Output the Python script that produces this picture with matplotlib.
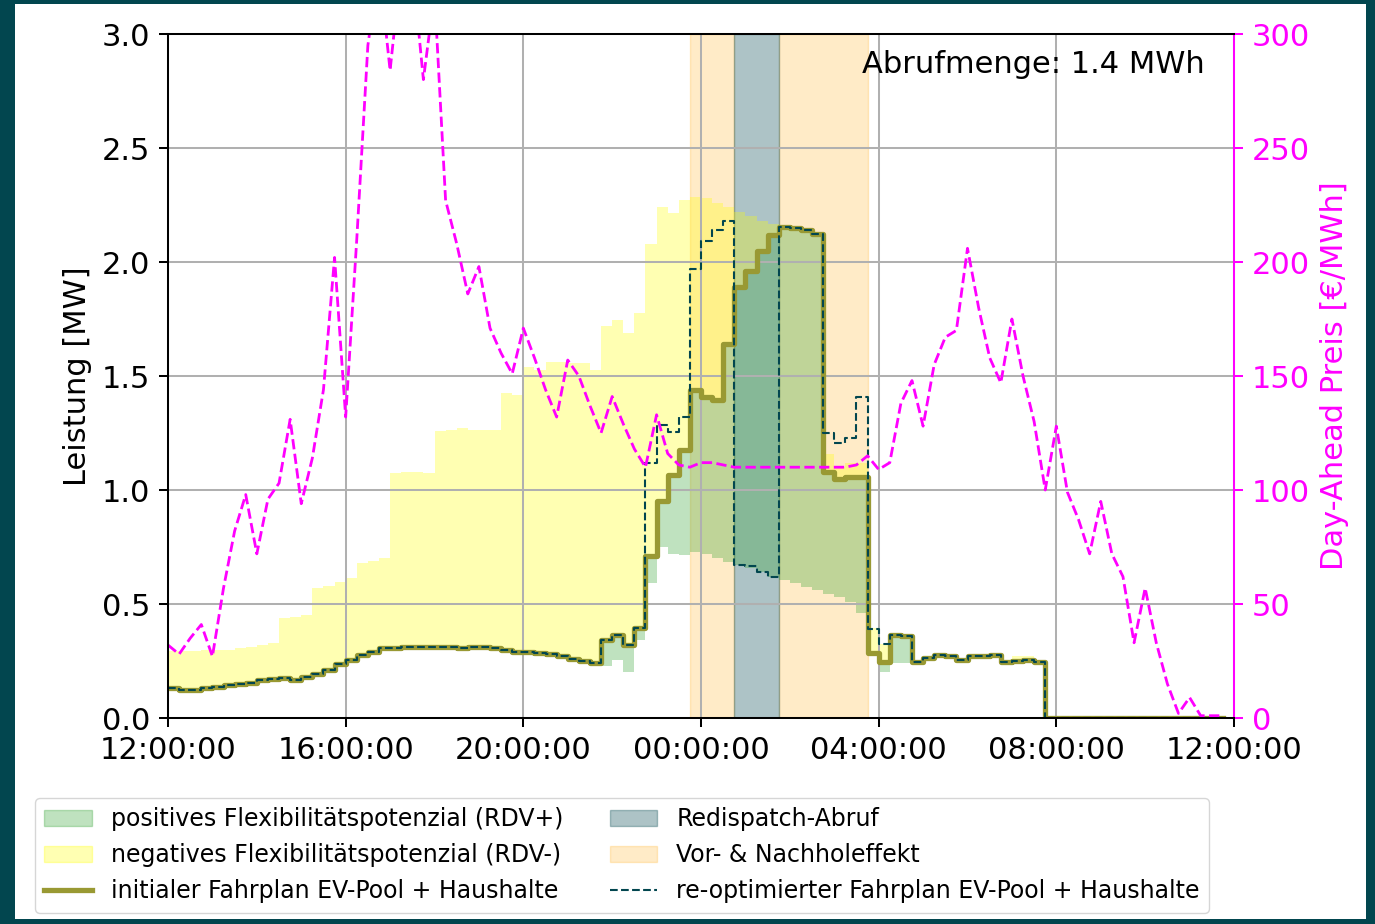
import matplotlib
matplotlib.use("Agg")
import matplotlib.pyplot as plt
import matplotlib.dates as mdates
from matplotlib.patches import Patch, Rectangle
from matplotlib.lines import Line2D
import pandas as pd

# 15-min Zeitraster von 12:00 bis 11:45 am Folgetag
times = pd.date_range("2024-01-15 12:00", periods=96, freq="15min")

initial = [0.13, 0.125, 0.125, 0.13, 0.135, 0.145, 0.15, 0.155, 0.165, 0.17,
           0.175, 0.167, 0.18, 0.195, 0.21, 0.235, 0.255, 0.275, 0.29, 0.305,
           0.305, 0.31, 0.31, 0.31, 0.31, 0.31, 0.305, 0.31, 0.31, 0.305,
           0.30, 0.29, 0.29, 0.285, 0.28, 0.27, 0.26, 0.25, 0.24, 0.34,
           0.365, 0.32, 0.395, 0.71, 0.95, 1.065, 1.175, 1.44, 1.41, 1.395,
           1.64, 1.89, 1.96, 2.05, 2.12, 2.155, 2.15, 2.14, 2.125, 1.08,
           1.05, 1.055, 1.055, 0.285, 0.245, 0.365, 0.36, 0.245, 0.265, 0.275,
           0.27, 0.255, 0.27, 0.27, 0.275, 0.245, 0.25, 0.255, 0.245, 0.0,
           0, 0, 0, 0, 0, 0, 0, 0, 0, 0,
           0, 0, 0, 0, 0, 0]

reopt = [0.13, 0.125, 0.125, 0.13, 0.135, 0.145, 0.15, 0.155, 0.165, 0.17,
         0.175, 0.167, 0.18, 0.195, 0.21, 0.235, 0.255, 0.275, 0.29, 0.305,
         0.305, 0.31, 0.31, 0.31, 0.31, 0.31, 0.305, 0.31, 0.31, 0.305,
         0.30, 0.29, 0.29, 0.285, 0.28, 0.27, 0.26, 0.25, 0.24, 0.34,
         0.365, 0.32, 0.395, 1.12, 1.285, 1.255, 1.32, 1.97, 2.09, 2.14,
         2.18, 0.67, 0.665, 0.64, 0.62, 2.155, 2.15, 2.14, 2.125, 1.25,
         1.205, 1.23, 1.41, 0.39, 0.325, 0.365, 0.36, 0.245, 0.265, 0.275,
         0.27, 0.255, 0.27, 0.27, 0.275, 0.245, 0.25, 0.255, 0.245, 0.0,
         0, 0, 0, 0, 0, 0, 0, 0, 0, 0,
         0, 0, 0, 0, 0, 0]

# untere Grenze (RDV+) und obere Grenze (RDV-)
lower = [0.13, 0.125, 0.125, 0.13, 0.135, 0.145, 0.15, 0.155, 0.165, 0.17,
         0.175, 0.167, 0.18, 0.195, 0.21, 0.235, 0.255, 0.275, 0.29, 0.305,
         0.305, 0.31, 0.31, 0.31, 0.31, 0.31, 0.305, 0.31, 0.31, 0.305,
         0.30, 0.29, 0.29, 0.285, 0.28, 0.27, 0.26, 0.25, 0.24, 0.23,
         0.255, 0.20, 0.34, 0.59, 0.75, 0.72, 0.715, 0.73, 0.72, 0.70,
         0.685, 0.67, 0.66, 0.64, 0.62, 0.605, 0.59, 0.575, 0.56, 0.545,
         0.53, 0.51, 0.46, 0.285, 0.20, 0.24, 0.24, 0.245, 0.265, 0.275,
         0.27, 0.255, 0.27, 0.27, 0.275, 0.245, 0.25, 0.255, 0.245, 0.0,
         0, 0, 0, 0, 0, 0, 0, 0, 0, 0,
         0, 0, 0, 0, 0, 0]

upper = [0.295, 0.295, 0.295, 0.30, 0.30, 0.30, 0.305, 0.31, 0.32, 0.33,
         0.44, 0.445, 0.45, 0.57, 0.58, 0.595, 0.615, 0.68, 0.69, 0.70,
         1.075, 1.08, 1.08, 1.075, 1.26, 1.265, 1.27, 1.265, 1.265, 1.265,
         1.425, 1.415, 1.54, 1.525, 1.56, 1.56, 1.555, 1.555, 1.525, 1.72,
         1.745, 1.69, 1.775, 2.08, 2.24, 2.215, 2.27, 2.285, 2.28, 2.26,
         2.24, 2.22, 2.20, 2.18, 2.165, 2.155, 2.15, 2.14, 2.125, 1.16,
         1.10, 1.12, 1.12, 0.395, 0.325, 0.365, 0.36, 0.245, 0.265, 0.275,
         0.27, 0.255, 0.27, 0.27, 0.275, 0.245, 0.27, 0.27, 0.245, 0.0,
         0, 0, 0, 0, 0, 0, 0, 0, 0, 0,
         0, 0, 0, 0, 0, 0]

price = [32, 28, 35, 41, 27, 57, 82, 98, 72, 96,
         103, 131, 94, 114, 144, 202, 132, 210, 295, 330,
         284, 330, 330, 280, 318, 227, 208, 186, 198, 171,
         160, 151, 171, 158, 144, 132, 157, 150, 137, 125,
         141, 129, 118, 110, 133, 116, 111, 110, 112, 112,
         111, 110, 110, 110, 110, 110, 110, 110, 110, 110,
         110, 110, 111, 115, 109, 112, 138, 148, 128, 155,
         167, 170, 206, 180, 158, 147, 175, 150, 130, 100,
         128, 99, 87, 72, 95, 72, 62, 33, 57, 33,
         15, 2, 9, 1, 1, 1]

redispatch = ("2024-01-16 00:45", "2024-01-16 01:45")
vorhol = ("2024-01-15 23:45", "2024-01-16 00:45")
nachhol = ("2024-01-16 01:45", "2024-01-16 03:45")

teal = "#02464f"
olive = "#999933"
green = "tab:green"

plt.rcParams.update({
    "font.size": 22,
    "axes.linewidth": 1.45,
    "grid.linewidth": 1.45,
    "xtick.major.size": 6.4, "ytick.major.size": 6.4,
    "xtick.major.width": 1.45, "ytick.major.width": 1.45,
    "xtick.major.pad": 6.4, "ytick.major.pad": 6.4,
    "axes.labelpad": 7.3,
})

fig = plt.figure(figsize=(13.75, 9.24), dpi=100, facecolor=teal)
fig.patches.append(Rectangle((15 / 1375, 1 - 919 / 924), 1351 / 1375, 915 / 924,
                             transform=fig.transFigure, facecolor="white",
                             edgecolor="none", zorder=-10))

ax = fig.add_axes([168 / 1375, 1 - 718 / 924, 1066 / 1375, 684 / 924])

ax.axvspan(pd.Timestamp(vorhol[0]), pd.Timestamp(vorhol[1]), color="orange", alpha=0.22, zorder=1)
ax.axvspan(pd.Timestamp(nachhol[0]), pd.Timestamp(nachhol[1]), color="orange", alpha=0.22, zorder=1)
ax.axvspan(pd.Timestamp(redispatch[0]), pd.Timestamp(redispatch[1]), color=teal, alpha=0.32, zorder=1)

ax.fill_between(times, lower, initial, step="post", color=green, alpha=0.3, lw=0, zorder=1.2)
ax.fill_between(times, initial, upper, step="post", color="yellow", alpha=0.3, lw=0, zorder=1.2)

ax.step(times, initial, where="post", color=olive, lw=3.8, zorder=3)
ax.step(times, reopt, where="post", color=teal, lw=1.5, ls="--", zorder=4)

ax.set_ylim(0, 3)
ax.set_yticks([0, 0.5, 1.0, 1.5, 2.0, 2.5, 3.0])
ax.set_xlim(pd.Timestamp("2024-01-15 12:00"), pd.Timestamp("2024-01-16 12:00"))
ax.xaxis.set_major_locator(mdates.HourLocator(byhour=[0, 4, 8, 12, 16, 20]))
ax.xaxis.set_major_formatter(mdates.DateFormatter("%H:%M:%S"))
ax.grid(True)
ax.set_ylabel("Leistung [MW]")
ax.text(0.973, 0.977, "Abrufmenge: 1.4 MWh", transform=ax.transAxes,
        ha="right", va="top", zorder=6)

ax2 = ax.twinx()
ax2.plot(times, price, color="magenta", ls="--", lw=2)
ax2.set_ylim(0, 300)
ax2.set_yticks([0, 50, 100, 150, 200, 250, 300])
ax2.tick_params(axis="y", colors="magenta")
ax2.spines["right"].set_color("magenta")
ax2.set_ylabel("Day-Ahead Preis [€/MWh]", color="magenta")

handles = [
    Patch(color=green, alpha=0.3),
    Patch(color="yellow", alpha=0.3),
    Line2D([], [], color=olive, lw=3.8),
    Patch(color=teal, alpha=0.32),
    Patch(color="orange", alpha=0.22),
    Line2D([], [], color=teal, lw=1.5, ls="--"),
]
labels = [
    "positives Flexibilitätspotenzial (RDV+)",
    "negatives Flexibilitätspotenzial (RDV-)",
    "initialer Fahrplan EV-Pool + Haushalte",
    "Redispatch-Abruf",
    "Vor- & Nachholeffekt",
    "re-optimierter Fahrplan EV-Pool + Haushalte",
]
fig.legend(handles, labels, ncol=2, loc="upper left", fontsize=17,
           bbox_to_anchor=(35 / 1375, 1 - 798 / 924), borderaxespad=0)

fig.savefig("out.png", dpi=100, facecolor=fig.get_facecolor())
